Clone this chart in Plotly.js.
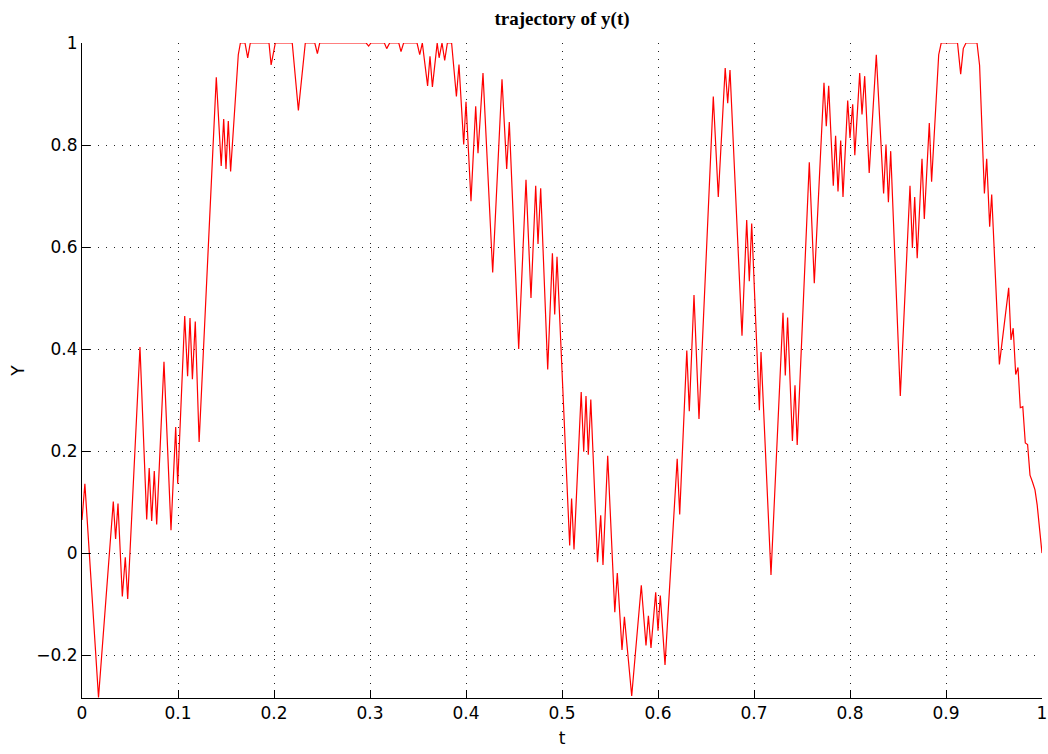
<!DOCTYPE html>
<html>
<head>
<meta charset="utf-8">
<script src="https://cdn.plot.ly/plotly-3.0.1.min.js"></script>
<style>html,body{margin:0;padding:0;background:#fff;}#chart{width:1048px;height:754px;}</style>
</head>
<body>
<div id="chart"></div>
<script>
// time samples (t) and trajectory values y(t)
var tValues = [
0, 0.003, 0.0172, 0.0326, 0.035, 0.0375, 0.042, 0.0451, 0.0476, 0.0604,
0.0674, 0.070, 0.0726, 0.0753, 0.0778, 0.0854, 0.0927, 0.0976, 0.0997, 0.107,
0.110, 0.1125, 0.115, 0.118, 0.122, 0.1399, 0.145, 0.1476, 0.150, 0.1524,
0.1548, 0.1628, 0.165, 0.1698, 0.1726, 0.1753, 0.1948, 0.197, 0.2014, 0.219,
0.2254, 0.2326, 0.2425, 0.2452, 0.2476, 0.296, 0.2986, 0.301, 0.315, 0.3174,
0.3205, 0.330, 0.3323, 0.335, 0.349, 0.3518, 0.3545, 0.360, 0.3625, 0.365,
0.370, 0.372, 0.375, 0.3778, 0.3806, 0.385, 0.390, 0.3927, 0.3976, 0.400,
0.4052, 0.4101, 0.4125, 0.4177, 0.4278, 0.4375, 0.4424, 0.4451, 0.4549, 0.4625,
0.4677, 0.4726, 0.475, 0.4778, 0.4851, 0.490, 0.4924, 0.4948, 0.508, 0.510,
0.5125, 0.520, 0.5226, 0.525, 0.5274, 0.530, 0.537, 0.5403, 0.5427, 0.5476,
0.555, 0.5576, 0.5625, 0.565, 0.5726, 0.5826, 0.5875, 0.590, 0.5927, 0.5976,
0.600, 0.6024, 0.6073, 0.620, 0.6226, 0.630, 0.6326, 0.6375, 0.6427, 0.6576,
0.6628, 0.670, 0.6726, 0.675, 0.6875, 0.6924, 0.6951, 0.6976, 0.7056, 0.7073,
0.7177, 0.7302, 0.7326, 0.735, 0.740, 0.7427, 0.745, 0.7576, 0.7628, 0.7729,
0.7753, 0.7778, 0.7826, 0.785, 0.7875, 0.7903, 0.7927, 0.7976, 0.800, 0.8028,
0.805, 0.8101, 0.8125, 0.8153, 0.820, 0.8274, 0.835, 0.8375, 0.840, 0.8424,
0.8524, 0.8625, 0.865, 0.8674, 0.870, 0.875, 0.8774, 0.8826, 0.885, 0.8924,
0.895, 0.912, 0.9153, 0.918, 0.9208, 0.9323, 0.935, 0.940, 0.9424, 0.9455,
0.9476, 0.9556, 0.9653, 0.9677, 0.970, 0.9726, 0.975, 0.9774, 0.980, 0.9826,
0.985, 0.9875, 0.990, 0.9927, 0.995, 0.9976, 1.0
];
var yValues = [
0.065, 0.136, -0.283, 0.101, 0.028, 0.097, -0.085, -0.008, -0.09, 0.404,
0.066, 0.167, 0.063, 0.161, 0.056, 0.375, 0.045, 0.247, 0.136, 0.465,
0.347, 0.461, 0.341, 0.454, 0.218, 0.933, 0.759, 0.851, 0.753, 0.847,
0.748, 0.977, 1, 1, 0.971, 1, 1, 0.957, 1, 1,
0.868, 1, 1, 0.979, 1, 1, 0.994, 1, 1, 0.989,
1, 1, 0.983, 1, 1, 0.977, 1, 0.916, 0.974, 0.914,
1, 0.971, 1, 0.966, 1, 1, 0.895, 0.958, 0.801, 0.885,
0.69, 0.876, 0.784, 0.941, 0.55, 0.929, 0.753, 0.845, 0.40, 0.732,
0.50, 0.72, 0.606, 0.715, 0.36, 0.588, 0.468, 0.581, 0.015, 0.107,
0.007, 0.316, 0.199, 0.308, 0.193, 0.301, -0.018, 0.074, -0.023, 0.191,
-0.116, -0.039, -0.19, -0.125, -0.28, -0.063, -0.181, -0.123, -0.186, -0.077,
-0.152, -0.083, -0.219, 0.185, 0.076, 0.397, 0.278, 0.506, 0.263, 0.895,
0.698, 0.951, 0.882, 0.947, 0.426, 0.653, 0.533, 0.646, 0.28, 0.394,
-0.043, 0.471, 0.348, 0.462, 0.22, 0.329, 0.212, 0.766, 0.529, 0.922,
0.837, 0.916, 0.72, 0.818, 0.709, 0.809, 0.698, 0.887, 0.814, 0.88,
0.78, 0.941, 0.86, 0.935, 0.745, 0.977, 0.705, 0.801, 0.688, 0.788,
0.308, 0.72, 0.598, 0.698, 0.578, 0.773, 0.655, 0.843, 0.728, 0.977,
1, 1, 0.939, 0.989, 1, 1, 0.956, 0.705, 0.773, 0.64,
0.703, 0.37, 0.52, 0.418, 0.441, 0.35, 0.364, 0.285, 0.287, 0.216,
0.213, 0.153, 0.14, 0.124, 0.094, 0.044, 0.0
];
var xTicks = [0, 0.1, 0.2, 0.3, 0.4, 0.5, 0.6, 0.7, 0.8, 0.9, 1];
var xTickLabels = ['0', '0.1', '0.2', '0.3', '0.4', '0.5', '0.6', '0.7', '0.8', '0.9', '1'];
var yTicks = [-0.2, 0, 0.2, 0.4, 0.6, 0.8, 1];
var yTickLabels = ['\u22120.2', '0', '0.2', '0.4', '0.6', '0.8', '1'];
var titleText = 'trajectory of y(t)';
var xLabel = 't';
var yLabel = 'Y';

var axisFont = {family: 'DejaVu Sans, Arial, sans-serif', size: 17, color: '#000'};

var trace = {
  x: tValues, y: yValues, type: 'scatter', mode: 'lines',
  line: {color: '#ff0000', width: 1.2},
  hoverinfo: 'skip'
};

var layout = {
  width: 1048, height: 754,
  margin: {l: 82, r: 6, t: 43, b: 56},
  paper_bgcolor: '#fff', plot_bgcolor: '#fff',
  showlegend: false,
  title: {
    text: '<b>' + titleText + '</b>',
    font: {family: 'Liberation Serif, Times New Roman, serif', size: 19, color: '#000'},
    x: 0.5363, xanchor: 'center', xref: 'container',
    y: 0.976, yanchor: 'middle', yref: 'container'
  },
  xaxis: {
    range: [0, 1], tickvals: xTicks, ticktext: xTickLabels,
    ticks: 'inside', ticklen: 8, tickcolor: '#000', tickwidth: 1,
    showline: true, linecolor: '#000', linewidth: 1, mirror: false,
    showgrid: true, gridcolor: '#222', gridwidth: 1, griddash: '1px,7px',
    zeroline: false, tickfont: axisFont,
    title: {text: xLabel, font: axisFont, standoff: 9}
  },
  yaxis: {
    range: [-0.284, 1], tickvals: yTicks, ticktext: yTickLabels,
    ticks: 'inside', ticklen: 8, tickcolor: '#000', tickwidth: 1,
    showline: true, linecolor: '#000', linewidth: 1, mirror: false,
    showgrid: true, gridcolor: '#222', gridwidth: 1, griddash: '1px,7px',
    zeroline: false, tickfont: axisFont,
    title: {text: yLabel, font: axisFont, standoff: 7}
  }
};

Plotly.newPlot('chart', [trace], layout, {displayModeBar: false, staticPlot: true});
</script>
</body>
</html>
